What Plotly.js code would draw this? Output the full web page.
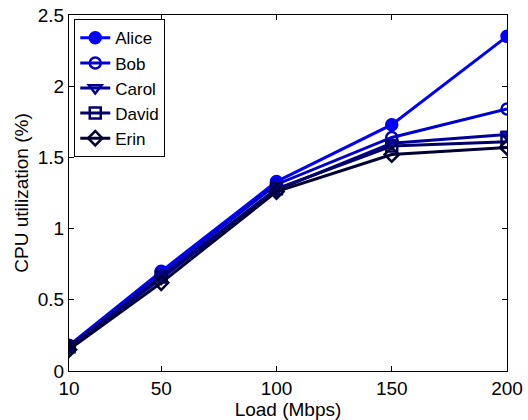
<!DOCTYPE html>
<html>
<head>
<meta charset="utf-8">
<script src="https://cdn.plot.ly/plotly-3.0.1.min.js"></script>
<style>html,body{margin:0;padding:0;background:#fff;}#chart{width:528px;height:420px;}</style>
</head>
<body>
<div id="chart"></div>
<script>
const loads = [10, 50, 100, 150, 200];
const names = ["Alice", "Bob", "Carol", "David", "Erin"];
const alice = [0.18, 0.70, 1.33, 1.73, 2.35];
const bob   = [0.17, 0.68, 1.31, 1.64, 1.84];
const carol = [0.16, 0.65, 1.27, 1.60, 1.66];
const david = [0.17, 0.66, 1.28, 1.58, 1.61];
const erin  = [0.15, 0.62, 1.26, 1.52, 1.57];
const xTicks = [10, 50, 100, 150, 200];
const yTicks = [0, 0.5, 1, 1.5, 2, 2.5];
const yTickText = ["0", "0.5", "1", "1.5", "2", "2.5"];

const series = [alice, bob, carol, david, erin];
const colors = ["#0000ff", "#0000cc", "#000099", "#000066", "#000033"];
const symbols = ["circle", "circle-open", "triangle-down-open", "square-open", "diamond-open"];

const traces = series.map((ys, i) => ({
  x: loads, y: ys, name: names[i], type: "scatter", mode: "lines+markers",
  line: {color: colors[i], width: 3},
  marker: {symbol: symbols[i], size: 11, color: colors[i], line: {color: colors[i], width: 2.5}}
}));

const fam = "Liberation Sans, Arial, sans-serif";
const fs = 19;
const layout = {
  width: 528, height: 420,
  margin: {l: 69, r: 21, t: 15, b: 49},
  paper_bgcolor: "#fff", plot_bgcolor: "#fff",
  font: {family: fam, size: fs, color: "#000"},
  showlegend: true,
  legend: {x: 0.012, y: 0.988, xanchor: "left", yanchor: "top", bgcolor: "#fff",
           bordercolor: "#000", borderwidth: 1, font: {family: fam, size: 17, color: "#000"},
           tracegroupgap: 0, itemwidth: 30},
  xaxis: {range: [10, 200], tickvals: xTicks, showgrid: false, zeroline: false,
          showline: true, mirror: "ticks", linecolor: "#000", linewidth: 1,
          ticks: "inside", ticklen: 5, tickcolor: "#000",
          tickfont: {family: fam, size: fs, color: "#000"},
          title: {text: "Load (Mbps)", standoff: 0, font: {family: fam, size: fs, color: "#000"}}},
  yaxis: {range: [0, 2.5], tickvals: yTicks, ticktext: yTickText, showgrid: false, zeroline: false,
          showline: true, mirror: "ticks", linecolor: "#000", linewidth: 1,
          ticks: "inside", ticklen: 5, tickcolor: "#000",
          tickfont: {family: fam, size: fs, color: "#000"},
          title: {text: "CPU utilization (%)", standoff: 4, font: {family: fam, size: fs, color: "#000"}}}
};
Plotly.newPlot("chart", traces, layout, {displayModeBar: false, staticPlot: true});
</script>
</body>
</html>
